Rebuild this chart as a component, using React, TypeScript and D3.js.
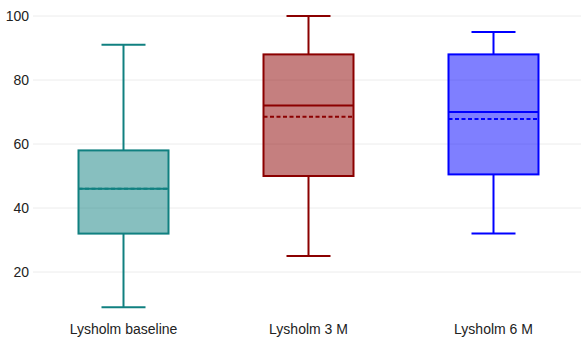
import * as d3 from 'd3';
import React from 'react';

const categories = ['Lysholm baseline', 'Lysholm 3 M', 'Lysholm 6 M'];
const mins = [9, 25, 32];
const q1s = [32, 50, 50.5];
const medians = [46, 72, 70];
const means = [46, 68.5, 67.8];
const q3s = [58, 88, 88];
const maxs = [91, 100, 95];
const yTicks = [20, 40, 60, 80, 100];
const colors = ['#108080', '#8b0000', '#0000ff'];

const W = 581;
const H = 344;

export default function App() {
  const x = d3.scaleBand().domain(categories).range([31, 586]);
  const y = d3.scaleLinear().domain([0, 100]).range([336, 16]);
  const boxW = 90;
  const capW = 44;

  return (
    <svg width={W} height={H} style={{ position: 'absolute', left: 0, top: 0, fontFamily: 'Liberation Sans, Arial, sans-serif' }}>
      <rect width={W} height={H} fill="#fff" />
      {yTicks.map(t => (
        <g key={t}>
          <line x1={33} x2={W} y1={y(t)} y2={y(t)} stroke="#ececec" strokeWidth={1} />
          <text x={29} y={y(t)} dy="0.35em" textAnchor="end" fontSize={14} fill="#222">{t}</text>
        </g>
      ))}
      {categories.map((c, i) => {
        const cx = (x(c) as number) + x.bandwidth() / 2;
        const col = colors[i];
        return (
          <g key={c}>
            <line x1={cx} x2={cx} y1={y(maxs[i])} y2={y(q3s[i])} stroke={col} strokeWidth={2} />
            <line x1={cx} x2={cx} y1={y(q1s[i])} y2={y(mins[i])} stroke={col} strokeWidth={2} />
            <line x1={cx - capW / 2} x2={cx + capW / 2} y1={y(maxs[i])} y2={y(maxs[i])} stroke={col} strokeWidth={2} />
            <line x1={cx - capW / 2} x2={cx + capW / 2} y1={y(mins[i])} y2={y(mins[i])} stroke={col} strokeWidth={2} />
            <rect x={cx - boxW / 2} y={y(q3s[i])} width={boxW} height={y(q1s[i]) - y(q3s[i])}
              fill={col} fillOpacity={0.5} stroke={col} strokeWidth={2} />
            <line x1={cx - boxW / 2} x2={cx + boxW / 2} y1={y(medians[i])} y2={y(medians[i])} stroke={col} strokeWidth={2} />
            <line x1={cx - boxW / 2} x2={cx + boxW / 2} y1={y(means[i])} y2={y(means[i])} stroke={col} strokeWidth={2} strokeDasharray="4,2.5" />
            <text x={cx} y={334} textAnchor="middle" fontSize={14} fill="#222">{c}</text>
          </g>
        );
      })}
    </svg>
  );
}
